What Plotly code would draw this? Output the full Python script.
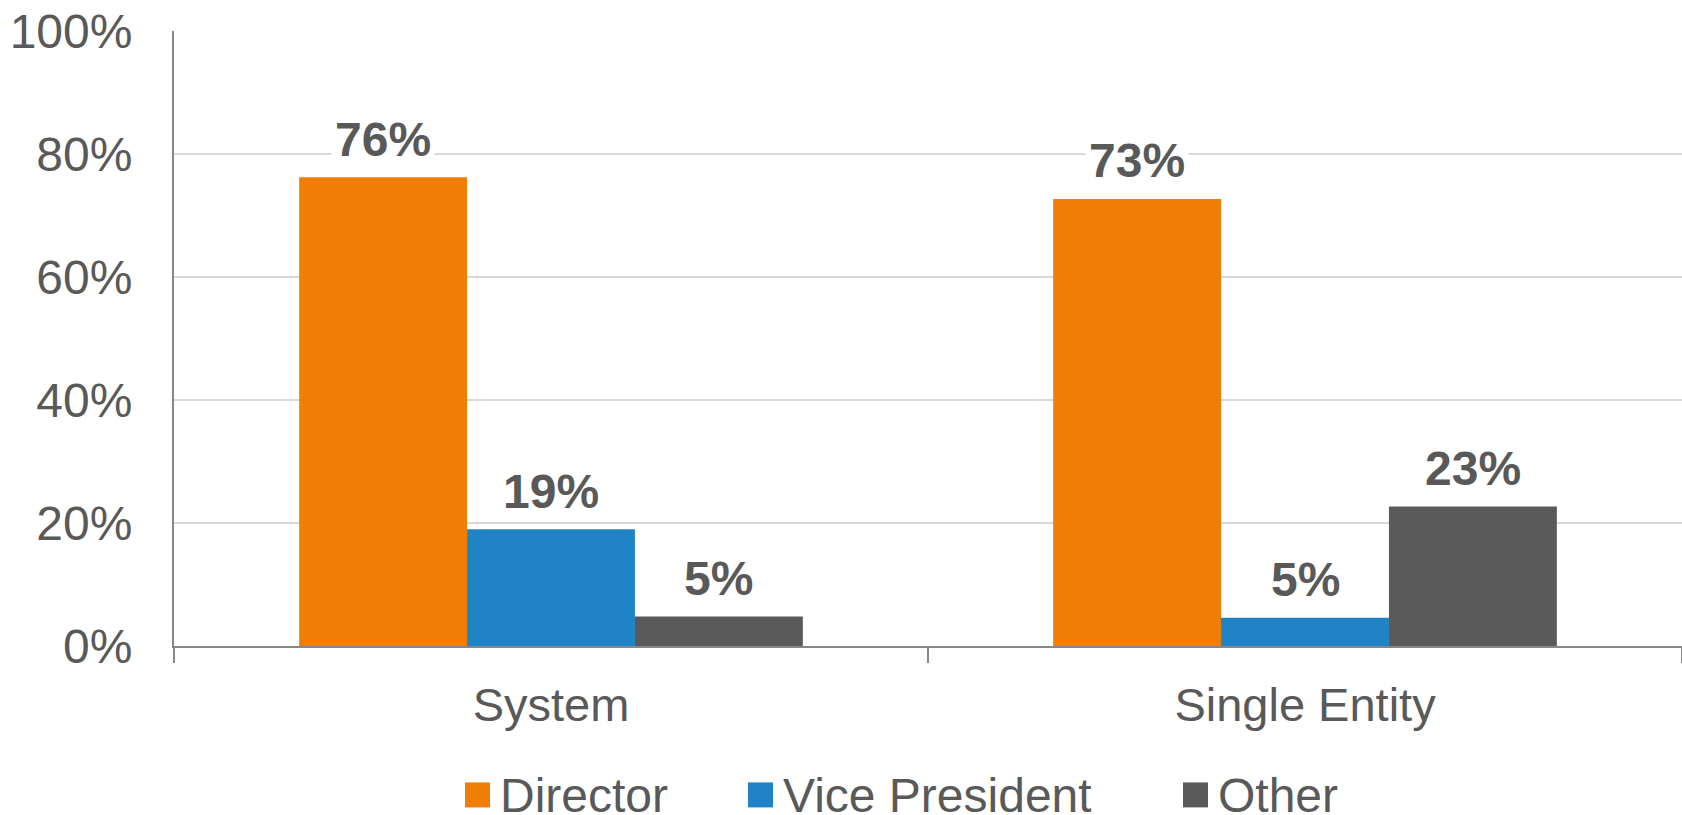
import plotly.graph_objects as go

categories = ["System", "Single Entity"]
series_names = ["Director", "Vice President", "Other"]
director = [76.2, 72.7]
vice_president = [19.0, 4.6]
other = [4.8, 22.7]
series_values = [director, vice_president, other]
colors = ["#F07D05", "#1F83C5", "#5A5A5A"]
y_ticks = [0, 20, 40, 60, 80, 100]
y_tick_labels = ["0%", "20%", "40%", "60%", "80%", "100%"]

FONT = "Liberation Sans, Arial, sans-serif"
TXT = "#595959"
BARGAP = 0.332

fig = go.Figure()
for name, vals, col in zip(series_names, series_values, colors):
    fig.add_trace(go.Bar(x=categories, y=vals, name=name, marker=dict(color=col, line=dict(width=0)),
                         showlegend=False))

# data labels with white background (cutting gridlines)
n = len(series_names)
w = (1 - BARGAP) / n
annotations = []
for i, (vals, col) in enumerate(zip(series_values, colors)):
    off = (i - (n - 1) / 2) * w
    for j, v in enumerate(vals):
        annotations.append(dict(x=j + off, y=v, xref="x", yref="y", text=f"{round(v)}%",
                                showarrow=False, yanchor="middle", yshift=38,
                                font=dict(family=FONT, size=48, color=TXT, weight="bold"),
                                bgcolor="white", borderpad=3))

# custom legend (large square symbols)
L, R, T, B = 174, 1682, 30.6, 645.6
def px(X):
    return (X - L) / (R - L)
def py(Y):
    return (B - Y) / (B - T)
legend_x = [465, 748, 1183]
shapes = []
for name, col, lx in zip(series_names, colors, legend_x):
    shapes.append(dict(type="rect", xref="paper", yref="paper", x0=px(lx), x1=px(lx + 25),
                       y0=py(807), y1=py(782), fillcolor=col, line=dict(width=0)))
    annotations.append(dict(x=px(lx + 33), y=py(794.5), xref="paper", yref="paper", text=name,
                            showarrow=False, xanchor="left", yanchor="middle", height=44,
                            valign="middle",
                            font=dict(family=FONT, size=48, color=TXT)))

fig.update_layout(
    barmode="group", bargap=BARGAP, bargroupgap=0,
    width=1682, height=815,
    margin=dict(l=174, r=0, t=31, b=169),
    paper_bgcolor="white", plot_bgcolor="white",
    font=dict(family=FONT, color=TXT),
    annotations=annotations, shapes=shapes,
    xaxis=dict(type="category", showline=True, linecolor="#878787", linewidth=2,
               ticks="outside", tickson="boundaries", ticklen=15, tickcolor="#878787", tickwidth=1.5,
               ticklabelstandoff=17,
               tickfont=dict(family=FONT, size=47, color=TXT), showgrid=False),
    yaxis=dict(range=[0, 100], tickvals=y_ticks, ticktext=y_tick_labels, showline=True,
               linecolor="#878787", linewidth=2, showgrid=True, gridcolor="#D9D9D9", gridwidth=1.5,
               zeroline=False, ticks="", ticklabelstandoff=30,
               tickfont=dict(family=FONT, size=48, color=TXT)),
)

fig.write_html("out.html")
